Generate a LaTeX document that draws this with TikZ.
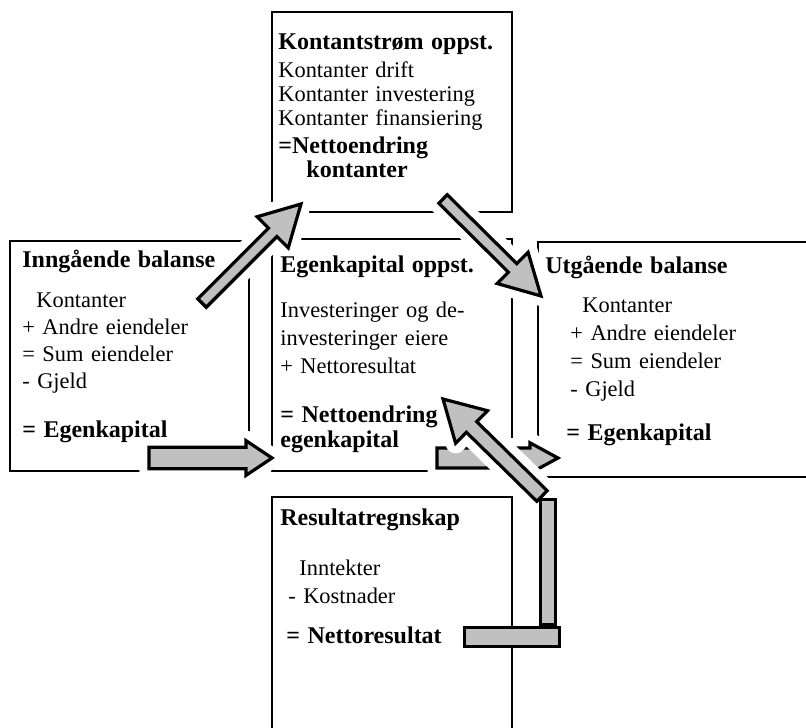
\documentclass[tikz,border=0pt]{standalone}
\usepackage{fontspec}
\setmainfont{Liberation Serif}
\usetikzlibrary{calc}
\definecolor{arrowgray}{RGB}{192,192,192}
\newcommand{\boxhead}[1]{{\fontsize{12}{12}\selectfont\bfseries #1}}

\tikzset{
  boxframe/.style={draw, line width=0.6pt, anchor=north west, inner sep=0pt, outer sep=0pt},
  boxtext/.style={anchor=base west, inner sep=0pt, text width=170pt, align=left,
    font=\fontsize{11.2}{#1}\selectfont},
  boxtext/.default=14pt,
  arrshaft/.store in=\arrshaft, arrhead/.store in=\arrhead, arrlen/.store in=\arrlen,
  arrshaft=3pt, arrhead=11pt, arrlen=20pt,
  blockarrow/.style={fill=arrowgray, draw, line width=1.6pt,
    preaction={draw=white, line width=10pt, line join=round},
    to path={($(\tikztostart)!\arrshaft!-90:(\tikztotarget)$)
      -- ($($(\tikztotarget)!\arrlen!(\tikztostart)$)!\arrshaft!-90:(\tikztotarget)$)
      -- ($($(\tikztotarget)!\arrlen!(\tikztostart)$)!\arrhead!-90:(\tikztotarget)$)
      -- (\tikztotarget)
      -- ($($(\tikztotarget)!\arrlen!(\tikztostart)$)!\arrhead!90:(\tikztotarget)$)
      -- ($($(\tikztotarget)!\arrlen!(\tikztostart)$)!\arrshaft!90:(\tikztotarget)$)
      -- ($(\tikztostart)!\arrshaft!90:(\tikztotarget)$) -- cycle}},
  bar/.style={fill=arrowgray, draw, line width=1.6pt}
}

\begin{document}
\begin{tikzpicture}[x=0.5pt,y=-0.5pt]
  \useasboundingbox (0,0) rectangle (806,727);

  % the five statements
  \node[boxframe, minimum width=120pt, minimum height=100pt] (kstrom) at (272,12) {};
  \node[boxframe, minimum width=119.5pt, minimum height=115pt] (inng) at (10,241) {};
  \node[boxframe, minimum width=120pt, minimum height=116pt] (ekopp) at (272,239) {};
  \node[boxframe, minimum width=150pt, minimum height=117.5pt] (utg) at (538,242) {};
  \node[boxframe, minimum width=120pt, minimum height=130pt] (resultat) at (272,497) {};

  % arrow ends
  \coordinate (a1s) at (202,303);
  \coordinate (a1e) at (301,204);
  \coordinate (a2s) at (443,199);
  \coordinate (a2e) at (541,296);
  \coordinate (a3s) at (149,458);
  \coordinate (a3e) at (272,458);
  \coordinate (a5s) at (437,458);
  \coordinate (a5e) at (558,458);
  \coordinate (a4s) at (542,496);
  \coordinate (a4e) at (443,399);

  % flows between the statements
  \draw[blockarrow] (a1s) to (a1e);
  \draw[blockarrow] (a2s) to (a2e);
  \draw[blockarrow, arrshaft=5.4pt, arrhead=8.7pt, arrlen=13pt] (a3s) to (a3e);
  \draw[blockarrow, arrshaft=5pt, arrhead=7.6pt, arrlen=14pt] (a5s) to (a5e);
  \draw[blockarrow, arrshaft=3.7pt, arrhead=11.4pt, arrlen=20pt] (a4s) to (a4e);
  % Nettoresultat up to the egenkapital
  \draw[bar] (540.6,499.6) rectangle (555.4,624.4);
  \draw[bar] (464.6,627.6) rectangle (559.4,646.4);

  % texts
  \node[boxtext=12pt] (kstromtxt) at (278,50) {\boxhead{Kontantstrøm oppst.}\\[2pt]
    Kontanter drift\\
    Kontanter investering\\
    Kontanter finansiering\\[2pt]
    \boxhead{=Nettoendring}\\
    \hspace*{14pt}\boxhead{kontanter}};
  \node[boxtext=13.5pt] (inngtxt) at (22,267) {\boxhead{Inngående balanse}\\[6.5pt]
    \hspace*{7pt}Kontanter\\
    + Andre eiendeler\\
    = Sum eiendeler\\
    - Gjeld\\[11pt]
    \boxhead{= Egenkapital}};
  \node[boxtext] (ekopptxt) at (280,272) {\boxhead{Egenkapital oppst.}\\[8.5pt]
    Investeringer og de-\\
    investeringer eiere\\
    + Nettoresultat\\[10.5pt]
    \boxhead{= Nettoendring}\\[-1.5pt]
    \boxhead{egenkapital}};
  \node[boxtext] (utgtxt) at (545,273) {\boxhead{Utgående balanse}\\[5.5pt]
    \hspace*{18.5pt}Kontanter\\
    \hspace*{12.5pt}+ Andre eiendeler\\
    \hspace*{12.5pt}= Sum eiendeler\\
    \hspace*{12.5pt}- Gjeld\\[8pt]
    \hspace*{10.5pt}\boxhead{= Egenkapital}};
  \node[boxtext] (resultattxt) at (280,525) {\boxhead{Resultatregnskap}\\[11pt]
    \hspace*{9.5pt}Inntekter\\
    \hspace*{4pt}- Kostnader\\[6pt]
    \hspace*{3pt}\boxhead{= Nettoresultat}};
\end{tikzpicture}
\end{document}
